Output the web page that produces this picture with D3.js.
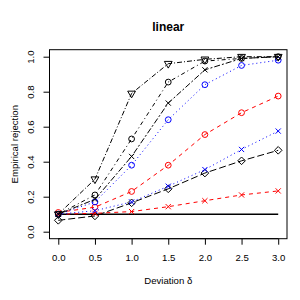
<!DOCTYPE html>
<html><head><meta charset="utf-8">
<script src="https://cdn.jsdelivr.net/npm/d3@7"></script>
<style>body{margin:0;background:#fff}svg{display:block;font-family:"Liberation Sans",Arial,sans-serif}</style>
</head><body><svg id="c" width="300" height="300"></svg>
<script>
const xs = [0, 0.5, 1, 1.5, 2, 2.5, 3];
const triBlack   = [0.10, 0.30, 0.79, 0.96, 0.985, 1.0, 1.0];
const circBlack  = [0.10, 0.21, 0.53, 0.855, 0.975, 0.99, 1.0];
const crossBlack = [0.10, 0.185, 0.43, 0.735, 0.925, 0.99, 1.0];
const circBlue   = [0.10, 0.17, 0.38, 0.64, 0.84, 0.95, 0.98];
const circRed    = [0.11, 0.14, 0.23, 0.38, 0.555, 0.68, 0.775];
const crossBlue  = [0.10, 0.12, 0.17, 0.26, 0.355, 0.47, 0.575];
const diamBlack  = [0.065, 0.09, 0.165, 0.245, 0.335, 0.405, 0.465];
const crossRed   = [0.10, 0.105, 0.115, 0.143, 0.177, 0.21, 0.233];
const refLevel = 0.1;
const xTicks = [0, 0.5, 1, 1.5, 2, 2.5, 3];
const yTicks = [0, 0.2, 0.4, 0.6, 0.8, 1.0];

const series = [
  {v: diamBlack, color: "#000", dash: "7,3", shape: "diamond"},
  {v: crossRed, color: "#f00", dash: "4,4", shape: "cross"},
  {v: circRed, color: "#f00", dash: "4,4", shape: "circle"},
  {v: crossBlue, color: "#00f", dash: "1,3", shape: "cross"},
  {v: circBlue, color: "#00f", dash: "1,3", shape: "circle"},
  {v: crossBlack, color: "#000", dash: "2,2,6,2", shape: "cross"},
  {v: circBlack, color: "#000", dash: "1,3,4,3", shape: "circle"},
  {v: triBlack, color: "#000", dash: "5,2,1,2", shape: "tri"}
];

const svg = d3.select("#c");
const L = 49.5, R = 287, T = 49.7, B = 238.7;
const x = d3.scaleLinear().domain([-0.12, 3.12]).range([L, R]);
const y = d3.scaleLinear().domain([-0.04, 1.04]).range([B, T]);

// reference line
svg.append("line").attr("x1", x(0)).attr("x2", x(3)).attr("y1", y(refLevel)).attr("y2", y(refLevel))
  .attr("stroke", "#000").attr("stroke-width", 1.6);

const line = d3.line().x((d,i) => x(xs[i])).y(d => y(d));
series.forEach(s => {
  svg.append("path").attr("d", line(s.v)).attr("fill", "none").attr("stroke", s.color)
    .attr("stroke-width", 1).attr("stroke-dasharray", s.dash);
  const g = svg.append("g").attr("stroke", s.color).attr("fill", "none").attr("stroke-width", 1);
  s.v.forEach((v, i) => {
    const cx = x(xs[i]), cy = y(v);
    if (s.shape === "circle") g.append("circle").attr("cx", cx).attr("cy", cy).attr("r", 2.9);
    else if (s.shape === "cross") g.append("path").attr("d", `M${cx-2.6},${cy-2.6}L${cx+2.6},${cy+2.6}M${cx-2.6},${cy+2.6}L${cx+2.6},${cy-2.6}`);
    else if (s.shape === "diamond") g.append("path").attr("d", `M${cx},${cy-3.8}L${cx+3.8},${cy}L${cx},${cy+3.8}L${cx-3.8},${cy}Z`);
    else if (s.shape === "tri") g.append("path").attr("d", `M${cx-3.9},${cy-2.3}L${cx+3.9},${cy-2.3}L${cx},${cy+4.4}Z`);
  });
});

// box
svg.append("rect").attr("x", L).attr("y", T).attr("width", R - L).attr("height", B - T)
  .attr("fill", "none").attr("stroke", "#000").attr("stroke-width", 1);

// x axis
const xa = svg.append("g").attr("transform", `translate(0,${B})`)
  .call(d3.axisBottom(x).tickValues(xTicks).tickFormat(d3.format(".1f")).tickSize(6).tickPadding(9));
xa.select(".domain").remove();
xa.append("line").attr("x1", x(0)).attr("x2", x(3)).attr("stroke", "#000");
xa.selectAll("text").attr("font-size", 9.6).attr("fill", "#000").attr("font-family", "Liberation Sans, Arial, sans-serif");

// y axis
const ya = svg.append("g").attr("transform", `translate(${L},0)`)
  .call(d3.axisLeft(y).tickValues(yTicks).tickFormat(d3.format(".1f")).tickSize(6).tickPadding(0));
ya.select(".domain").remove();
ya.append("line").attr("y1", y(0)).attr("y2", y(1)).attr("stroke", "#000");
ya.selectAll("text").attr("font-size", 9.6).attr("fill", "#000").attr("font-family", "Liberation Sans, Arial, sans-serif")
  .attr("x", null).attr("dy", null).attr("text-anchor", "middle")
  .attr("transform", "translate(-18.5,0) rotate(-90)").attr("y", 0).attr("dominant-baseline", "middle");

svg.append("text").attr("x", (L + R) / 2).attr("y", 31).attr("text-anchor", "middle")
  .attr("font-size", 12).attr("font-weight", "bold").text("linear");
svg.append("text").attr("x", (L + R) / 2).attr("y", 284).attr("text-anchor", "middle")
  .attr("font-size", 9.6).text("Deviation δ");
svg.append("text").attr("transform", `translate(18,${(T + B) / 2}) rotate(-90)`).attr("text-anchor", "middle")
  .attr("font-size", 9.6).text("Empirical rejection");
</script></body></html>
